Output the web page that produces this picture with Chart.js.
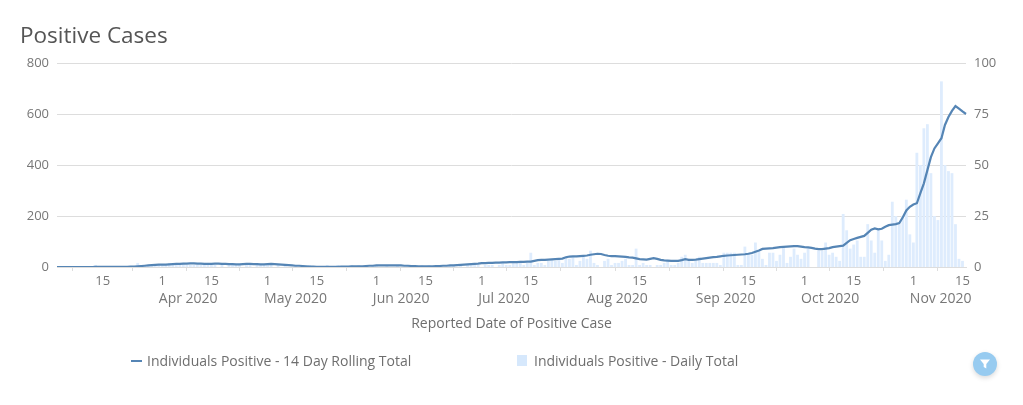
<!DOCTYPE html>
<html>
<head>
<meta charset="utf-8">
<title>Positive Cases</title>
<script src="https://cdn.jsdelivr.net/npm/chart.js@4"></script>
<style>
  html, body { margin: 0; padding: 0; background: #fff; overflow: hidden; }
  body { width: 1023px; height: 405px; position: relative; font-family: "Open Sans", sans-serif; }
  canvas { position: absolute; left: 0; top: 0; }
  h2 { position: absolute; left: 20px; top: 20px; margin: 0; font-size: 22.5px; line-height: 30px; font-weight: 400; color: #555; }
  .legend-item { position: absolute; top: 352px; font-size: 14px; line-height: 18px; color: #6e6e6e; white-space: nowrap; }
  .legend-line { position: absolute; left: 131px; top: 360px; width: 11px; height: 2px; background: #5585b5; }
  .legend-box { position: absolute; left: 517px; top: 355px; width: 10px; height: 11px; background: #d6e8fc; }
  #filterBtn { position: absolute; left: 973px; top: 352px; width: 24px; height: 24px; border-radius: 50%; background: #97cbf0; box-shadow: 0 2px 5px rgba(0,0,0,0.15); }
  #filterBtn svg { position: absolute; left: 6px; top: 6px; }
</style>
</head>
<body>
<canvas id="chart" width="1023" height="405"></canvas>
<h2>Positive Cases</h2>
<div class="legend-line"></div>
<div class="legend-item" id="legendLine" style="left:147px"></div>
<div class="legend-box"></div>
<div class="legend-item" id="legendBar" style="left:534px"></div>
<div id="filterBtn"><svg width="12" height="12" viewBox="0 0 12 12"><path d="M1 1.5h10L7.3 6v4.5L4.7 9V6z" fill="#fff"/></svg></div>
<script>
// --- Data ---
const startDate = '2020-03-02';

// one value per day, 2 Mar to 16 Nov 2020 (left axis)
const rollingTotal = [
  0,0,0,0,0,0,0,0,0,0,0,1,1,1,1,1,1,1,1,1,1,2,2,3,4,5,6,7,8,9,
  9,9,10,11,12,12,13,13,14,14,13,13,12,12,12,13,13,12,12,11,11,10,10,11,12,12,11,11,10,10,
  11,12,11,10,9,8,7,6,5,5,4,3,2,2,1,1,1,1,1,1,1,2,2,2,3,3,3,3,4,5,5,
  6,6,6,6,6,6,6,6,5,5,4,4,3,3,3,3,3,4,4,5,5,6,6,7,8,9,10,11,12,13,
  15,15,16,16,17,17,18,18,19,19,19,20,20,21,21,24,27,28,28,29,30,31,32,33,38,41,42,42,43,44,45,
  48,50,52,51,47,44,43,43,42,41,40,38,37,34,31,30,29,32,35,32,28,26,25,24,24,24,27,31,28,28,29,
  31,33,35,37,39,40,42,44,45,46,47,48,49,50,52,55,60,65,71,72,73,74,76,78,79,80,81,82,82,80,
  78,77,75,72,70,70,72,74,78,80,82,84,95,105,110,114,118,122,134,146,151,148,150,158,164,166,168,172,195,222,236,
  245,250,290,328,380,431,465,485,505,557,588,612,631,621,610,600
];

// one value per day, same dates (right axis)
const dailyTotal = [
  0,0,0,0,0,0,0,0,0,0,0,1,0,0,0,0,0,0,0,0,0,0,0,2,1,1,1,1,1,1,
  1,1,2,1,2,1,2,1,1,1,1,1,2,2,1,1,0,1,0,1,1,1,1,0,2,1,0,1,1,1,
  1,1,0,1,0,1,0,0,1,0,0,0,1,0,0,0,0,1,0,0,1,0,0,0,1,0,1,0,1,0,1,
  1,0,0,1,0,0,1,0,0,1,0,0,0,1,0,1,0,0,1,0,0,1,1,0,1,0,1,1,2,1,
  0,1,1,1,0,1,2,1,1,2,2,3,1,2,7,1,2,2,1,3,4,3,4,2,4,4,5,1,3,5,4,
  8,2,1,0,3,4,1,2,2,3,4,1,1,9,1,2,1,1,0,1,1,2,3,1,1,2,5,6,4,2,3,
  5,2,2,2,2,2,1,7,7,7,7,1,1,10,7,6,12,8,4,1,7,7,3,6,10,2,5,9,6,4,
  7,9,0,0,8,8,12,6,7,5,3,26,18,9,11,13,5,5,21,13,7,19,13,3,6,32,25,21,25,33,16,
  12,56,50,68,70,46,25,23,91,50,47,46,21,4,3,0
];

const dayTickDates = ['2020-03-15','2020-04-01','2020-04-15','2020-05-01','2020-05-15','2020-06-01','2020-06-15','2020-07-01','2020-07-15','2020-08-01','2020-08-15','2020-09-01','2020-09-15','2020-10-01','2020-10-15','2020-11-01','2020-11-15'];
const dayTickLabels = ['15','1','15','1','15','1','15','1','15','1','15','1','15','1','15','1','15'];

// month names start just left of the "1" tick, so they hang off the day before
const monthTickDates = ['2020-03-31','2020-04-30','2020-05-31','2020-06-30','2020-07-31','2020-08-31','2020-09-30','2020-10-31'];
const monthTickLabels = ['Apr 2020','May 2020','Jun 2020','Jul 2020','Aug 2020','Sep 2020','Oct 2020','Nov 2020'];

const lineLabel = 'Individuals Positive - 14 Day Rolling Total';
const barLabel = 'Individuals Positive - Daily Total';

// --- Chart ---
const labels = dailyTotal.map((v, i) => {
  const d = new Date(startDate + 'T00:00:00Z');
  d.setUTCDate(d.getUTCDate() + i);
  return d.toISOString().slice(0, 10);
});

document.getElementById('legendLine').innerText = lineLabel;
document.getElementById('legendBar').innerText = barLabel;

const tickFont = { family: '"Open Sans", sans-serif', size: 13 };
const bigFont = { family: '"Open Sans", sans-serif', size: 14 };

new Chart(document.getElementById('chart').getContext('2d'), {
  data: {
    labels: labels,
    datasets: [
      { type: 'line', label: lineLabel, data: rollingTotal, xAxisID: 'x', yAxisID: 'yLeft', order: 1,
        borderColor: '#5585b5', borderWidth: 2.2, pointRadius: 0, tension: 0 },
      { type: 'bar', label: barLabel, data: dailyTotal, xAxisID: 'x', yAxisID: 'yRight', order: 2,
        backgroundColor: '#deecfd', barPercentage: 0.8, categoryPercentage: 1 }
    ]
  },
  options: {
    responsive: false,
    animation: false,
    layout: { padding: { top: 63, bottom: 73, left: 0, right: 0 } },
    plugins: { legend: { display: false }, tooltip: { enabled: false } },
    scales: {
      x: {
        type: 'category', position: 'bottom', weight: 0, offset: false,
        afterBuildTicks: scale => { scale.ticks = scale.ticks.filter(t => dayTickDates.includes(labels[t.value])); },
        afterFit: scale => { scale.height = 24; },
        grid: { drawOnChartArea: false, tickLength: 4, tickColor: '#ddd' },
        border: { color: '#ddd' },
        ticks: {
          autoSkip: false, maxRotation: 0, minRotation: 0, padding: 2,
          color: '#777', font: tickFont,
          callback: function (value) { return dayTickLabels[dayTickDates.indexOf(labels[value])]; }
        }
      },
      xMonth: {
        type: 'category', position: 'bottom', weight: 1, offset: false,
        afterBuildTicks: scale => { scale.ticks = scale.ticks.filter(t => monthTickDates.includes(labels[t.value])); },
        afterFit: scale => { scale.height = 41; },
        grid: { display: false, drawTicks: false },
        border: { display: false },
        ticks: {
          autoSkip: false, maxRotation: 0, minRotation: 0, padding: 0, align: 'start',
          color: '#777', font: bigFont,
          callback: function (value) { return monthTickLabels[monthTickDates.indexOf(labels[value])]; }
        },
        title: { display: true, text: 'Reported Date of Positive Case', color: '#6e6e6e', font: bigFont, padding: { top: 0, bottom: 0 } }
      },
      yLeft: {
        position: 'left', min: 0, max: 800,
        afterFit: scale => { scale.width = 57; },
        grid: { color: '#ddd', drawTicks: false },
        border: { display: false },
        ticks: { stepSize: 200, padding: 8, color: '#777', font: tickFont }
      },
      yRight: {
        position: 'right', min: 0, max: 100,
        afterFit: scale => { scale.width = 57; },
        grid: { display: false, drawTicks: false },
        border: { display: false },
        ticks: { stepSize: 25, padding: 8, color: '#777', font: tickFont }
      }
    }
  }
});
</script>
</body>
</html>
